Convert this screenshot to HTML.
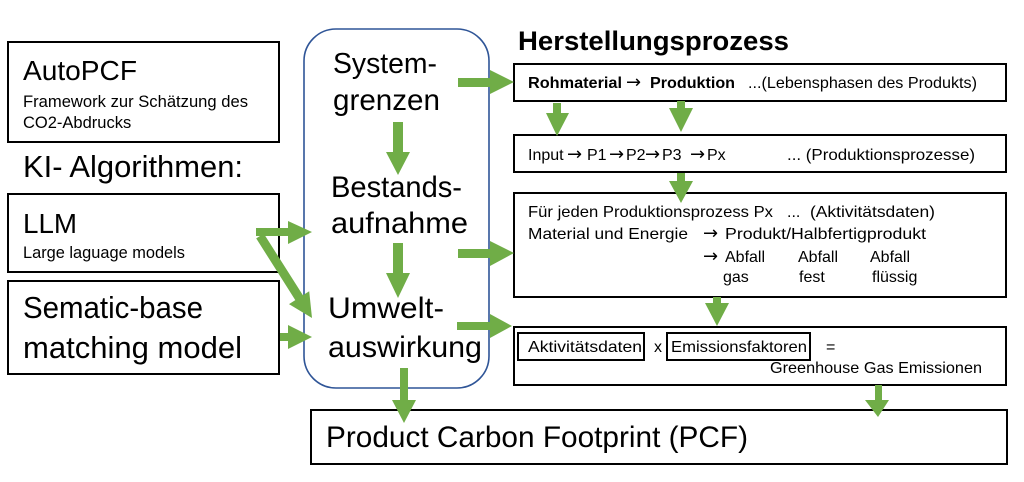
<!DOCTYPE html>
<html><head><meta charset="utf-8"><style>
html,body{margin:0;padding:0;background:#fff;}
svg{display:block;}
text{font-family:"Liberation Sans","DejaVu Sans",sans-serif;fill:#000;}
.ar{font-family:"DejaVu Sans",sans-serif;}
</style></head><body>
<svg width="1024" height="482" viewBox="0 0 1024 482" xmlns="http://www.w3.org/2000/svg">
<rect x="0" y="0" width="1024" height="482" fill="#fff"/>
<g fill="none" stroke="#000" stroke-width="2">
<rect x="8" y="42" width="271" height="100"/>
<rect x="8" y="194" width="271" height="78"/>
<rect x="8" y="281" width="271" height="93"/>
<rect x="311" y="410" width="696" height="54"/>
<rect x="514" y="64" width="492" height="37"/>
<rect x="514" y="135" width="492" height="37"/>
<rect x="514" y="193" width="492" height="104"/>
<rect x="514" y="327" width="492" height="58"/>
<rect x="518" y="333" width="126" height="27"/>
<rect x="667" y="333" width="143" height="27"/>
</g>
<rect x="304" y="29" width="185" height="359" rx="32" ry="32" fill="none" stroke="#2F5597" stroke-width="1.6"/>

<text x="23" y="80" font-size="28" textLength="114" lengthAdjust="spacingAndGlyphs">AutoPCF</text>
<text x="23" y="107" font-size="16.5" textLength="225" lengthAdjust="spacingAndGlyphs">Framework zur Schätzung des</text>
<text x="23" y="128" font-size="16.5">CO2-Abdrucks</text>
<text x="23" y="177" font-size="30.5" textLength="220" lengthAdjust="spacingAndGlyphs">KI- Algorithmen:</text>
<text x="23" y="233" font-size="28" textLength="54" lengthAdjust="spacingAndGlyphs">LLM</text>
<text x="23" y="258" font-size="16.5" textLength="162" lengthAdjust="spacingAndGlyphs">Large laguage models</text>
<text x="23" y="318" font-size="31" textLength="180" lengthAdjust="spacingAndGlyphs">Sematic-base</text>
<text x="23" y="358" font-size="31" textLength="219" lengthAdjust="spacingAndGlyphs">matching model</text>

<text x="333" y="73" font-size="29" textLength="104" lengthAdjust="spacingAndGlyphs">System-</text>
<text x="333" y="110" font-size="30" textLength="107" lengthAdjust="spacingAndGlyphs">grenzen</text>
<text x="331" y="197" font-size="29.5" textLength="131" lengthAdjust="spacingAndGlyphs">Bestands-</text>
<text x="331" y="233" font-size="30" textLength="137" lengthAdjust="spacingAndGlyphs">aufnahme</text>
<text x="328" y="318" font-size="30" textLength="116" lengthAdjust="spacingAndGlyphs">Umwelt-</text>
<text x="328" y="357" font-size="30" textLength="154" lengthAdjust="spacingAndGlyphs">auswirkung</text>

<text x="326" y="447" font-size="30" textLength="422" lengthAdjust="spacingAndGlyphs">Product Carbon Footprint (PCF)</text>

<text x="518" y="50" font-size="26.5" font-weight="bold" textLength="271" lengthAdjust="spacingAndGlyphs">Herstellungsprozess</text>

<text x="528" y="88" font-size="16" font-weight="bold" textLength="94" lengthAdjust="spacingAndGlyphs">Rohmaterial</text>
<text x="626" y="88" font-size="18" class="ar">→</text>
<text x="650" y="88" font-size="16" font-weight="bold" textLength="85" lengthAdjust="spacingAndGlyphs">Produktion</text>
<text x="748" y="88" font-size="16" textLength="229" lengthAdjust="spacingAndGlyphs">...(Lebensphasen des Produkts)</text>

<text x="528" y="160" font-size="16">Input</text>
<text x="567" y="160" font-size="18" class="ar">→</text>
<text x="587" y="160" font-size="16">P1</text>
<text x="609" y="160" font-size="18" class="ar">→</text>
<text x="626" y="160" font-size="16">P2</text>
<text x="645" y="160" font-size="18" class="ar">→</text>
<text x="662" y="160" font-size="16">P3</text>
<text x="690" y="160" font-size="18" class="ar">→</text>
<text x="707" y="160" font-size="16">Px</text>
<text x="787" y="160" font-size="16" textLength="188" lengthAdjust="spacingAndGlyphs">...  (Produktionsprozesse)</text>

<text x="528" y="217" font-size="16" textLength="245" lengthAdjust="spacingAndGlyphs">Für jeden Produktionsprozess Px</text>
<text x="787" y="217" font-size="16">...</text>
<text x="810" y="217" font-size="16" textLength="125" lengthAdjust="spacingAndGlyphs">(Aktivitätsdaten)</text>
<text x="528" y="239" font-size="16" textLength="160" lengthAdjust="spacingAndGlyphs">Material  und Energie</text>
<text x="703" y="239" font-size="18" class="ar">→</text>
<text x="725" y="239" font-size="16" textLength="201" lengthAdjust="spacingAndGlyphs">Produkt/Halbfertigprodukt</text>
<text x="703" y="262" font-size="18" class="ar">→</text>
<text x="725" y="262" font-size="16">Abfall</text>
<text x="798" y="262" font-size="16">Abfall</text>
<text x="870" y="262" font-size="16">Abfall</text>
<text x="723" y="282" font-size="16">gas</text>
<text x="799" y="282" font-size="16">fest</text>
<text x="872" y="282" font-size="16">flüssig</text>

<text x="528" y="352" font-size="16" textLength="114" lengthAdjust="spacingAndGlyphs">Aktivitätsdaten</text>
<text x="654" y="352" font-size="16">x</text>
<text x="671" y="352" font-size="16" textLength="136" lengthAdjust="spacingAndGlyphs">Emissionsfaktoren</text>
<text x="826" y="352" font-size="16">=</text>
<text x="770" y="373" font-size="16" textLength="212" lengthAdjust="spacingAndGlyphs">Greenhouse Gas Emissionen</text>

<g fill="#70AD47">
<polygon points="256,228 288,228 288,221 312,232 288,244 288,236 256,236"/>
<polygon points="256.2,238.4 295.3,300.1 289,304.1 312,318 309.2,291.3 302.9,295.3 263.8,233.6"/>
<polygon points="280,333 288,333 288,325 312,337 288,349 288,341 280,341"/>
<polygon points="458,78 490,78 490,70 514,82 490,94 490,87 458,87"/>
<polygon points="458,249 490,249 490,241 514,253 490,266 490,258 458,258"/>
<polygon points="457,322 490,322 490,314 512,326 490,338 490,330 457,330"/>
<polygon points="393,122 403,122 403,152 410,152 398,175 386,152 393,152"/>
<polygon points="393,243 403,243 403,273 410,273 398,298 386,273 393,273"/>
<polygon points="400,368 408,368 408,400 416,400 404,423 392,400 400,400"/>
<polygon points="553,103 561,103 561,113 569,113 557,136 546,113 553,113"/>
<polygon points="677,101 685,101 685,108 693,108 681,132 669,108 677,108"/>
<polygon points="677,173 685,173 685,181 693,181 681,203 669,181 677,181"/>
<polygon points="713,297 721,297 721,303 729,303 717,326 705,303 713,303"/>
<polygon points="875,385 882,385 882,400 889,400 878,417 865,400 875,400"/>
</g>
</svg>
</body></html>
